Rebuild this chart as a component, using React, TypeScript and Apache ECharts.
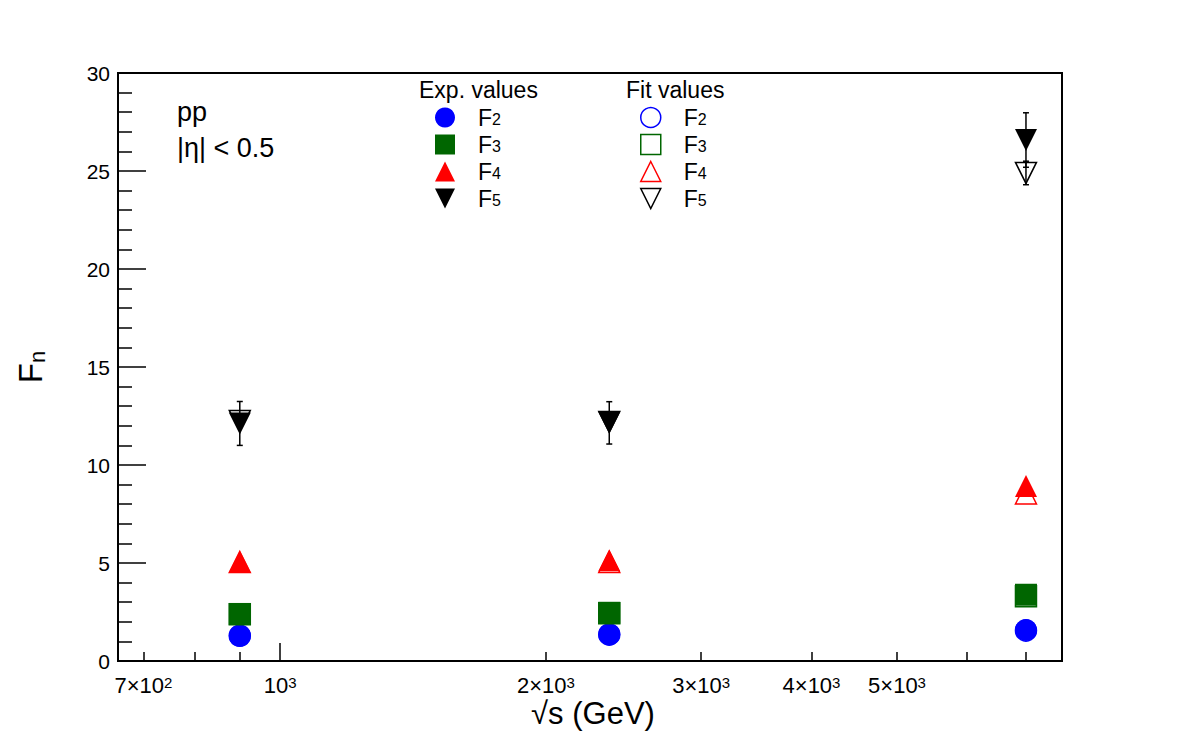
import React, { useEffect, useRef } from "react";
import * as echarts from "echarts";

// Collision energies (GeV)
const energies = [900, 2360, 7000];

// Measured moments
const expF2 = [1.29, 1.35, 1.58];
const expF3 = [2.4, 2.46, 3.38];
const expF4 = [5.07, 5.14, 8.93];
const expF5 = [12.12, 12.15, 26.58];
const expF5Err = [1.12, 1.08, 1.39];

// Fitted moments
const fitF2 = [1.29, 1.35, 1.55];
const fitF3 = [2.38, 2.44, 3.3];
const fitF4 = [5.05, 5.05, 8.55];
const fitF5 = [12.25, 12.2, 24.9];
const fitF5Err = [0, 0, 0.6];

// Axis ticks
const xRange = [655, 7690];
const xMinorTicks = [700, 800, 900, 2000, 3000, 4000, 5000, 6000, 7000];
const xMajorTicks = [1000];
const xLabels = [700, 1000, 2000, 3000, 4000, 5000];
const yRange = [0, 30];
const yStep = 5;

const FONT = '"Liberation Sans", Arial, Helvetica, sans-serif';
const lg = (v: number) => Math.log10(v);

const BLUE = "#0000ff";
const GREEN = "#006600";
const RED = "#ff0000";
const BLACK = "#000000";
const HOLLOW = "rgba(0,0,0,0)";
const DOWN_TRIANGLE = "path://M0,0L10,0L5,10Z";

function sciLabel(value: number): string {
  const v = Math.round(Math.pow(10, value));
  const exp = Math.floor(Math.log10(v) + 1e-9);
  const mant = Math.round(v / Math.pow(10, exp));
  return mant === 1 ? `{b|10}{sup|${exp}}` : `{b|${mant}×10}{sup|${exp}}`;
}

const points = (vals: number[]) => energies.map((e, i) => [lg(e), vals[i]]);
const bars = (vals: number[], errs: number[]) =>
  energies
    .map((e, i) => [lg(e), vals[i] - errs[i], vals[i] + errs[i]])
    .filter((_, i) => errs[i] > 0);

const markers = [
  { key: "F2", symbol: "circle", color: BLUE, exp: expF2, fit: fitF2 },
  { key: "F3", symbol: "rect", color: GREEN, exp: expF3, fit: fitF3 },
  { key: "F4", symbol: "triangle", color: RED, exp: expF4, fit: fitF4 },
  { key: "F5", symbol: DOWN_TRIANGLE, color: BLACK, exp: expF5, fit: fitF5 },
];

function errorBarRender(params: any, api: any) {
  const x = api.value(0);
  const lo = api.coord([x, api.value(1)]);
  const hi = api.coord([x, api.value(2)]);
  const cap = 3;
  const style = { stroke: BLACK, lineWidth: 1.5 };
  return {
    type: "group",
    children: [
      { type: "line", shape: { x1: lo[0], y1: lo[1], x2: hi[0], y2: hi[1] }, style },
      { type: "line", shape: { x1: hi[0] - cap, y1: hi[1], x2: hi[0] + cap, y2: hi[1] }, style },
      { type: "line", shape: { x1: lo[0] - cap, y1: lo[1], x2: lo[0] + cap, y2: lo[1] }, style },
    ],
  };
}

function legendBlock(prefix: "exp" | "fit", left: number) {
  return {
    orient: "vertical",
    left,
    top: 106,
    padding: 0,
    itemWidth: 20,
    itemHeight: 20,
    itemGap: 4,
    selectedMode: false,
    data: markers.map((m) => ({
      name: prefix + m.key,
      icon: m.symbol,
      itemStyle:
        prefix === "exp"
          ? { color: m.color, borderWidth: 0, opacity: 1 }
          : { color: HOLLOW, borderColor: m.color, borderWidth: 1.5, opacity: 1 },
    })),
    formatter: (name: string) => `{b|F}{sub|${name.slice(-1)}}`,
    textStyle: {
      fontFamily: FONT,
      fontSize: 23,
      color: BLACK,
      lineHeight: 20,
      padding: [0, 0, 0, 18],
      rich: {
        b: { fontFamily: FONT, fontSize: 23, lineHeight: 20, color: BLACK },
        sub: { fontFamily: FONT, fontSize: 16, lineHeight: 9, verticalAlign: "bottom", color: BLACK },
      },
    },
  };
}

export default function App() {
  const ref = useRef<HTMLDivElement>(null);

  useEffect(() => {
    document.body.style.margin = "0";
    const chart = echarts.init(ref.current!, null, { renderer: "svg" });

    const scatterSeries: any[] = [];
    markers.forEach((m) => {
      scatterSeries.push({
        type: "scatter",
        name: "exp" + m.key,
        data: points(m.exp),
        symbol: m.symbol,
        symbolSize: 22,
        itemStyle: { color: m.color, borderWidth: 0, opacity: 1 },
        silent: true,
        z: 3,
      });
      scatterSeries.push({
        type: "scatter",
        name: "fit" + m.key,
        data: points(m.fit),
        symbol: m.symbol,
        symbolSize: 21,
        itemStyle: { color: HOLLOW, borderColor: m.color, borderWidth: 1.5, opacity: 1 },
        silent: true,
        z: 4,
      });
    });

    const xBase = {
      type: "value",
      min: lg(xRange[0]),
      max: lg(xRange[1]),
      position: "bottom",
      splitLine: { show: false },
    };

    chart.setOption({
      animation: false,
      grid: {
        left: 118,
        right: 120,
        top: 73,
        bottom: 75,
        show: true,
        borderColor: BLACK,
        borderWidth: 2,
        backgroundColor: "transparent",
      },
      xAxis: [
        {
          ...xBase,
          axisLine: { show: true, lineStyle: { color: BLACK, width: 2 } },
          axisTick: {
            show: true,
            inside: true,
            length: 9,
            customValues: xMinorTicks.map(lg),
            lineStyle: { color: BLACK, width: 1.5 },
          },
          axisLabel: {
            show: true,
            customValues: xLabels.map(lg),
            formatter: (v: number) => sciLabel(v),
            margin: 14,
            color: BLACK,
            fontFamily: FONT,
            fontSize: 22,
            lineHeight: 20,
            rich: {
              b: { fontFamily: FONT, fontSize: 22, lineHeight: 20, color: BLACK },
              sup: { fontFamily: FONT, fontSize: 15, lineHeight: 10, verticalAlign: "top", color: BLACK },
            },
          },
        },
        {
          ...xBase,
          axisLine: { show: false },
          axisTick: {
            show: true,
            inside: true,
            length: 18,
            customValues: xMajorTicks.map(lg),
            lineStyle: { color: BLACK, width: 1.5 },
          },
          axisLabel: { show: false },
        },
      ],
      yAxis: {
        type: "value",
        min: yRange[0],
        max: yRange[1],
        interval: yStep,
        axisLine: { show: true, lineStyle: { color: BLACK, width: 2 } },
        axisTick: { show: true, inside: true, length: 28, lineStyle: { color: BLACK, width: 1.5 } },
        minorTick: { show: true, splitNumber: 5, length: 14, lineStyle: { color: BLACK, width: 1.5 } },
        splitLine: { show: false },
        minorSplitLine: { show: false },
        axisLabel: { color: BLACK, fontFamily: FONT, fontSize: 21, margin: 8 },
      },
      legend: [legendBlock("exp", 435), legendBlock("fit", 640)],
      graphic: [
        {
          type: "text",
          left: 419,
          top: 78,
          style: { text: "Exp. values", fontFamily: FONT, fontSize: 23, fill: BLACK },
        },
        {
          type: "text",
          left: 626,
          top: 78,
          style: { text: "Fit values", fontFamily: FONT, fontSize: 23, fill: BLACK },
        },
        {
          type: "text",
          left: 177,
          top: 98,
          style: { text: "pp", fontFamily: FONT, fontSize: 27, fill: BLACK },
        },
        {
          type: "text",
          left: 177,
          top: 134,
          style: { text: "|η| < 0.5", fontFamily: FONT, fontSize: 27, fill: BLACK },
        },
        {
          type: "text",
          x: 593,
          y: 713,
          style: {
            text: "√s (GeV)",
            fontFamily: FONT,
            fontSize: 31,
            lineHeight: 30,
            fill: BLACK,
            align: "center",
            verticalAlign: "middle",
          },
        },
        {
          type: "text",
          x: 48,
          y: 367,
          rotation: Math.PI / 2,
          style: {
            text: "{b|F}{sub|n}",
            fontFamily: FONT,
            fontSize: 33,
            lineHeight: 36,
            fill: BLACK,
            align: "center",
            verticalAlign: "bottom",
            rich: {
              b: { fontFamily: FONT, fontSize: 33, lineHeight: 36, fill: BLACK },
              sub: { fontFamily: FONT, fontSize: 22, lineHeight: 20, verticalAlign: "bottom", fill: BLACK },
            },
          },
        },
      ],
      series: [
        {
          type: "custom",
          name: "expErr",
          data: bars(expF5, expF5Err),
          encode: { x: 0, y: [1, 2] },
          renderItem: errorBarRender,
          silent: true,
          z: 2,
        },
        {
          type: "custom",
          name: "fitErr",
          data: bars(fitF5, fitF5Err),
          encode: { x: 0, y: [1, 2] },
          renderItem: errorBarRender,
          silent: true,
          z: 2,
        },
        ...scatterSeries,
      ],
    });

    return () => chart.dispose();
  }, []);

  return <div ref={ref} style={{ width: 1182, height: 736 }} />;
}
